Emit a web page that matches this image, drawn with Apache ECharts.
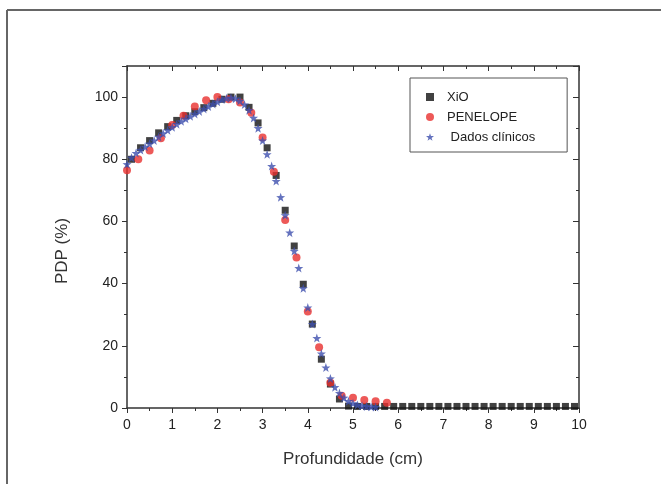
<!DOCTYPE html>
<html>
<head>
<meta charset="utf-8">
<script src="https://cdn.jsdelivr.net/npm/echarts@6/dist/echarts.min.js"></script>
<style>
  html, body { margin: 0; padding: 0; background: #fff; }
  #chart { width: 661px; height: 484px; }
</style>
</head>
<body>
<div id="chart"></div>
<script>
// profundidade (cm) e PDP (%)
var xioDepth = [0.1, 0.3, 0.5, 0.7, 0.9, 1.1, 1.3, 1.5, 1.7, 1.9, 2.1, 2.3, 2.5, 2.7, 2.9, 3.1, 3.3, 3.5, 3.7, 3.9,
    4.1, 4.3, 4.5, 4.7, 4.9, 5.1, 5.3, 5.5, 5.7, 5.9, 6.1, 6.3, 6.5, 6.7, 6.9, 7.1, 7.3, 7.5, 7.7, 7.9,
    8.1, 8.3, 8.5, 8.7, 8.9, 9.1, 9.3, 9.5, 9.7, 9.9];
var xioDose = [80, 83.7, 86, 88.5, 90.5, 92.5, 94, 95.3, 96.6, 98, 99.3, 100, 100, 96.7, 91.7, 83.7, 74.8, 63.6, 52.1, 39.8,
    27, 15.7, 7.7, 2.9, 0.6, 0.5, 0.5, 0.5, 0.5, 0.5, 0.5, 0.5, 0.5, 0.5, 0.5, 0.5, 0.5, 0.5, 0.5, 0.5,
    0.5, 0.5, 0.5, 0.5, 0.5, 0.5, 0.5, 0.5, 0.5, 0.5];

var penDepth = [0, 0.25, 0.5, 0.75, 1, 1.25, 1.5, 1.75, 2, 2.25, 2.5, 2.75, 3, 3.25, 3.5, 3.75, 4, 4.25, 4.5, 4.75,
    5, 5.25, 5.5, 5.75];
var penDose = [76.5, 80, 82.8, 86.8, 91, 94, 97, 99, 100, 99.3, 98.3, 95, 87, 76, 60.5, 48.4, 31, 19.5, 8.1, 3.9,
    3.3, 2.6, 2.2, 1.7];

var clinDepth = [0, 0.1, 0.2, 0.3, 0.4, 0.5, 0.6, 0.7, 0.8, 0.9, 1, 1.1, 1.2, 1.3, 1.4, 1.5, 1.6, 1.7, 1.8, 1.9,
    2, 2.1, 2.2, 2.3, 2.4, 2.5, 2.6, 2.7, 2.8, 2.9, 3, 3.1, 3.2, 3.3, 3.4, 3.5, 3.6, 3.7, 3.8, 3.9,
    4, 4.1, 4.2, 4.3, 4.4, 4.5, 4.6, 4.7, 4.8, 4.9, 5, 5.1, 5.2, 5.3, 5.4, 5.5];
var clinDose = [78.4, 80.5, 82, 83, 84, 85, 86, 87.2, 88.3, 89.3, 90.3, 91.3, 92.2, 93, 93.8, 94.6, 95.4, 96.2, 97, 97.8,
    98.5, 99.2, 99.6, 99.8, 99.5, 98.8, 97.6, 95.8, 93.3, 90, 86, 81.6, 77.8, 73, 67.8, 62, 56.4, 50.5, 45, 38.5,
    32.3, 27, 22.5, 17.5, 13, 9.5, 6.7, 4.8, 3.3, 2.2, 1.5, 1, 0.7, 0.5, 0.4, 0.3];

var seriesNames = ['XiO', 'PENELOPE', ' Dados clínicos'];

function pairs(xs, ys) {
    return xs.map(function (x, i) { return [x, ys[i]]; });
}

var star = 'path://M0,-10 L2.35,-3.24 L9.51,-3.09 L3.8,1.24 L5.88,8.09 L0,4 L-5.88,8.09 L-3.8,1.24 L-9.51,-3.09 L-2.35,-3.24 Z';
var axisColor = '#333';
var font = 'Arial, "Liberation Sans", sans-serif';

var chart = echarts.init(document.getElementById('chart'));
chart.setOption({
    animation: false,
    backgroundColor: '#fff',
    graphic: [
        { type: 'line', shape: { x1: 7, y1: 10, x2: 661, y2: 10 }, style: { stroke: '#666', lineWidth: 2 } },
        { type: 'line', shape: { x1: 7, y1: 10, x2: 7, y2: 484 }, style: { stroke: '#666', lineWidth: 2 } }
    ],
    grid: { left: 127, right: 82, top: 66, bottom: 76 },
    legend: {
        orient: 'vertical',
        left: 410,
        top: 78,
        padding: [9, 32, 5, 16],
        borderColor: '#555',
        borderWidth: 1,
        itemWidth: 8,
        itemHeight: 8,
        itemGap: 0,
        textStyle: { fontFamily: font, fontSize: 13, color: '#222', lineHeight: 20, padding: [0, 0, 0, 8] },
        data: seriesNames
    },
    xAxis: [{
        type: 'value', min: 0, max: 10, interval: 1,
        name: 'Profundidade (cm)', nameLocation: 'middle', nameGap: 43,
        nameTextStyle: { fontFamily: font, fontSize: 17, color: '#333' },
        axisLine: { onZero: false, lineStyle: { color: axisColor, width: 1.5 } },
        axisTick: { length: 5, lineStyle: { color: axisColor } },
        minorTick: { show: true, splitNumber: 2, length: 3, lineStyle: { color: axisColor } },
        axisLabel: { margin: 10, fontFamily: font, fontSize: 14, color: '#222' },
        splitLine: { show: false }
    }, {
        type: 'value', min: 0, max: 10, interval: 1, position: 'top',
        axisLine: { onZero: false, lineStyle: { color: axisColor, width: 1.5 } },
        axisTick: { inside: true, length: 5, lineStyle: { color: axisColor } },
        minorTick: { show: true, splitNumber: 2, length: 3, lineStyle: { color: axisColor } },
        axisLabel: { show: false },
        splitLine: { show: false }
    }],
    yAxis: [{
        type: 'value', min: 0, max: 110, interval: 20,
        name: 'PDP (%)', nameLocation: 'middle', nameGap: 56,
        nameTextStyle: { fontFamily: font, fontSize: 17, color: '#333', padding: [0, 28, 0, 0] },
        axisLine: { show: true, onZero: false, lineStyle: { color: axisColor, width: 1.5 } },
        axisTick: { show: true, length: 5, lineStyle: { color: axisColor } },
        minorTick: { show: true, splitNumber: 2, length: 3, lineStyle: { color: axisColor } },
        axisLabel: { margin: 9, fontFamily: font, fontSize: 14, color: '#222', showMaxLabel: false },
        splitLine: { show: false }
    }, {
        type: 'value', min: 0, max: 110, interval: 20, position: 'right',
        axisLine: { show: true, onZero: false, lineStyle: { color: axisColor, width: 1.5 } },
        axisTick: { show: true, inside: true, length: 6, lineStyle: { color: axisColor } },
        minorTick: { show: true, splitNumber: 2, length: 3, lineStyle: { color: axisColor } },
        axisLabel: { show: false },
        splitLine: { show: false }
    }],
    series: [{
        name: seriesNames[0], type: 'scatter', symbol: 'rect', symbolSize: 7,
        itemStyle: { color: '#111' },
        data: pairs(xioDepth, xioDose)
    }, {
        name: seriesNames[1], type: 'scatter', symbol: 'circle', symbolSize: 8,
        itemStyle: { color: '#e8302e' },
        data: pairs(penDepth, penDose)
    }, {
        name: seriesNames[2], type: 'scatter', symbol: star, symbolSize: 9,
        itemStyle: { color: '#3d4fae' },
        data: pairs(clinDepth, clinDose)
    }]
});
</script>
</body>
</html>
